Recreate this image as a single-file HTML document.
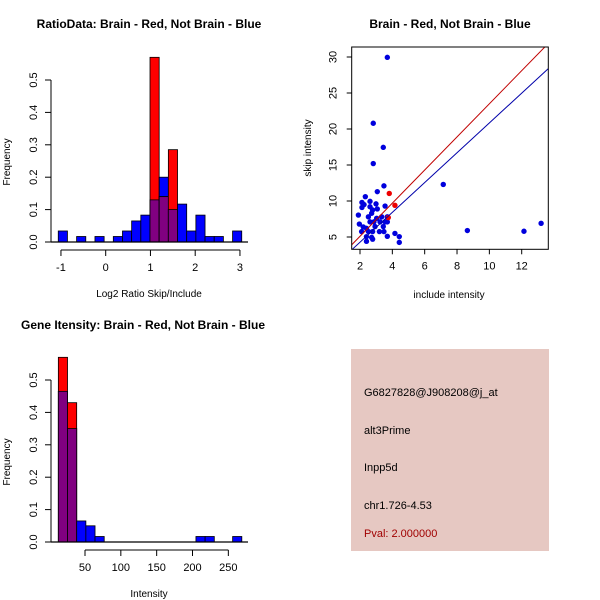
<!DOCTYPE html>
<html><head><meta charset="utf-8"><style>
body{margin:0;background:#fff}
svg{display:block;font-family:"Liberation Sans",sans-serif}
</style></head><body>
<svg id="s" width="600" height="600" viewBox="0 0 600 600">
<rect width="600" height="600" fill="#fff"/>
<g>
<rect x="351" y="349" width="198" height="202" fill="#e6c8c2"/>
<text x="364" y="396" font-size="11" fill="#000">G6827828@J908208@j_at</text>
<text x="364" y="434" font-size="11" fill="#000">alt3Prime</text>
<text x="364" y="471" font-size="11" fill="#000">Inpp5d</text>
<text x="364" y="509" font-size="11" fill="#000">chr1.726-4.53</text>
<text x="364" y="537" font-size="11" fill="#a00000">Pval: 2.000000</text>
</g>
</svg>
<script>
// ---- Panel 1: ratio histogram ----
const ratioStart = -1.06;
const ratioWidth = 0.205;
const ratioBlue = [0.034,0,0.017,0,0.017,0,0.017,0.034,0.065,0.083,0.13,0.2,0.1,0.117,0.034,0.083,0.017,0.017,0,0.034];
const ratioRed  = [0,0,0,0,0,0,0,0,0,0,0.57,0.14,0.285,0,0,0,0,0,0,0];
const ratioXTicks = [-1,0,1,2,3];
const freqTicks = ["0.0","0.1","0.2","0.3","0.4","0.5"];
// ---- Panel 2: scatter ----
const blueX = [3.69,2.82,3.44,2.82,7.15,3.48,3.07,2.33,2.62,2.12,2.25,2.12,2.99,3.55,2.62,2.78,3.07,1.9,2.52,3.34,3.69,3.03,2.72,1.96,2.2,2.4,2.62,2.86,3.24,3.55,3.69,2.1,2.52,2.78,3.2,3.48,3.69,2.4,2.72,2.78,2.4,2.93,3.44,4.16,4.43,4.43,8.64,12.14,13.2];
const blueY = [29.95,20.8,17.45,15.2,12.3,12.1,11.3,10.6,9.95,9.8,9.5,9.1,9.6,9.3,9.2,8.75,8.9,8.05,7.8,7.8,7.8,7.6,8.3,6.8,6.4,6.2,7.1,7.1,7.1,7.1,7.1,5.75,5.75,5.75,5.75,5.75,5.1,5.05,4.95,4.7,4.4,6.45,6.45,5.5,5.05,4.25,5.9,5.8,6.9];
const redX = [3.81,4.16,3.75];
const redY = [11.05,9.4,7.7];
const redLine = [0.5,2.3];   // intercept, slope
const blueLine = [0.14,2.07];
const scatXTicks = [2,4,6,8,10,12];
const scatYTicks = [5,10,15,20,25,30];
// ---- Panel 3: intensity histogram ----
const intStart = 12.8;
const intWidth = 12.8;
const intBlue = [0.465,0.35,0.065,0.05,0.017,0,0,0,0,0,0,0,0,0,0,0.017,0.017,0,0,0.017];
const intRed  = [0.57,0.43,0,0,0,0,0,0,0,0,0,0,0,0,0,0,0,0,0,0];
const intXTicks = [50,100,150,200,250];

const NS="http://www.w3.org/2000/svg";
const svg=document.getElementById('s');
function mk(tag,attrs,parent,text){const e=document.createElementNS(NS,tag);for(const k in attrs)e.setAttribute(k,attrs[k]);if(text!==undefined)e.textContent=text;(parent||svg).appendChild(e);return e;}

function hist(cfg){
  const g=mk('g',{});
  
  
  const X=v=>cfg.x0+(v-cfg.xa)*cfg.xs, Y=v=>cfg.y0-v*cfg.ys;
  const t=mk('text',{x:cfg.tx,y:cfg.ty,'font-size':12,'font-weight':'bold','text-anchor':'middle'},g,cfg.title);
  
  
  const n=cfg.blue.length;
  for(let i=0;i<n;i++){
    const l=cfg.start+i*cfg.width, r=l+cfg.width;
    const b=cfg.blue[i], rd=cfg.red[i];
    if(b>0){const e=mk('rect',{x:X(l),y:Y(b),width:X(r)-X(l),height:Y(0)-Y(b),fill:'#0000ff',stroke:'#000','stroke-width':0.8},g);
      
      }
    if(rd>0){const e=mk('rect',{x:X(l),y:Y(rd),width:X(r)-X(l),height:Y(0)-Y(rd),fill:'#ff0000',stroke:'#000','stroke-width':0.8},g);
      
      }
    const m=Math.min(b,rd);
    if(m>0){const e=mk('rect',{x:X(l),y:Y(m),width:X(r)-X(l),height:Y(0)-Y(m),fill:'#800080',stroke:'#000','stroke-width':0.8},g);
      
      }
  }
  mk('line',{x1:51,x2:248,y1:Y(0),y2:Y(0),stroke:'#000','stroke-width':1.2},g);
  const ya=mk('g',{},g);
  
  
  mk('line',{x1:51,x2:51,y1:Y(0),y2:Y(0.5),stroke:'#000'},ya);
  freqTicks.forEach(s=>{const v=parseFloat(s);mk('line',{x1:45,x2:51,y1:Y(v),y2:Y(v),stroke:'#000'},ya);
    mk('text',{x:0,y:0,'font-size':11,'text-anchor':'middle',transform:`translate(37,${Y(v)}) rotate(-90)`},ya,s);});
  const yl=mk('text',{x:0,y:0,'font-size':10,'text-anchor':'middle',transform:`translate(10,${(Y(0)+Y(0.5))/2+1}) rotate(-90)`},g,'Frequency');
  
  
  const xa=mk('g',{},g);
  
  
  const ay=cfg.y0+8;
  mk('line',{x1:X(cfg.xt[0]),x2:X(cfg.xt[cfg.xt.length-1]),y1:ay,y2:ay,stroke:'#000'},xa);
  cfg.xt.forEach(v=>{mk('line',{x1:X(v),x2:X(v),y1:ay,y2:ay+6,stroke:'#000'},xa);
    mk('text',{x:X(v),y:ay+21,'font-size':11,'text-anchor':'middle'},xa,String(v));});
  const xl=mk('text',{x:cfg.xlx,y:cfg.y0+55,'font-size':10,'text-anchor':'middle'},g,cfg.xlabel);
  
  
}
hist({name:'ratio-histogram',title:'RatioData: Brain - Red, Not Brain - Blue',tx:149,ty:28,x0:105.7,xa:0,xs:44.75,y0:242,ys:324,
  start:ratioStart,width:ratioWidth,blue:ratioBlue,red:ratioRed,xt:ratioXTicks,xlabel:'Log2 Ratio Skip/Include',xlx:149});
hist({name:'intensity-histogram',title:'Gene Itensity: Brain - Red, Not Brain - Blue',tx:143,ty:329,x0:85,xa:50,xs:0.7167,y0:542,ys:324,
  start:intStart,width:intWidth,blue:intBlue,red:intRed,xt:intXTicks,xlabel:'Intensity',xlx:149});

(function(){
  const g=mk('g',{});
  
  
  const X=v=>360+(v-2)*16.17, Y=v=>237-(v-5)*7.2;
  const L=351.7,R=548.3,T=47,B=249.3;
  const t=mk('text',{x:450,y:28,'font-size':12,'font-weight':'bold','text-anchor':'middle'},g,'Brain - Red, Not Brain - Blue');
  
  
  mk('clipPath',{id:'c'},g);
  mk('rect',{x:L,y:T,width:R-L,height:B-T},document.getElementById('c'));
  const pts=mk('g',{'clip-path':'url(#c)'},g);
  blueX.forEach((x,i)=>{const c=mk('circle',{cx:X(x),cy:Y(blueY[i]),r:2.7,fill:'#0000dd'},pts);
    
    });
  redX.forEach((x,i)=>{const c=mk('circle',{cx:X(x),cy:Y(redY[i]),r:2.7,fill:'#ee0000'},pts);
    
    });
  [[redLine,'#c00000','red-fit-line'],[blueLine,'#0000aa','blue-fit-line']].forEach(([p,col,nm])=>{
    const x1=1,x2=15;const l=mk('line',{x1:X(x1),y1:Y(p[0]+p[1]*x1),x2:X(x2),y2:Y(p[0]+p[1]*x2),stroke:col,'stroke-width':1},pts);
    
    });
  mk('rect',{x:L,y:T,width:R-L,height:B-T,fill:'none',stroke:'#000'},g);
  const xa=mk('g',{},g);
  
  
  scatXTicks.forEach(v=>{mk('line',{x1:X(v),x2:X(v),y1:B,y2:B+5,stroke:'#000'},xa);
    mk('text',{x:X(v),y:B+20,'font-size':11,'text-anchor':'middle'},xa,String(v));});
  const ya=mk('g',{},g);
  
  
  scatYTicks.forEach(v=>{mk('line',{x1:L-5,x2:L,y1:Y(v),y2:Y(v),stroke:'#000'},ya);
    mk('text',{x:0,y:0,'font-size':11,'text-anchor':'middle',transform:`translate(${L-15},${Y(v)}) rotate(-90)`},ya,String(v));});
  const xl=mk('text',{x:449,y:298,'font-size':10,'text-anchor':'middle'},g,'include intensity');
  
  
  const yl=mk('text',{x:0,y:0,'font-size':10,'text-anchor':'middle',transform:`translate(311,148) rotate(-90)`},g,'skip intensity');
  
  
})();
</script>
</body></html>
